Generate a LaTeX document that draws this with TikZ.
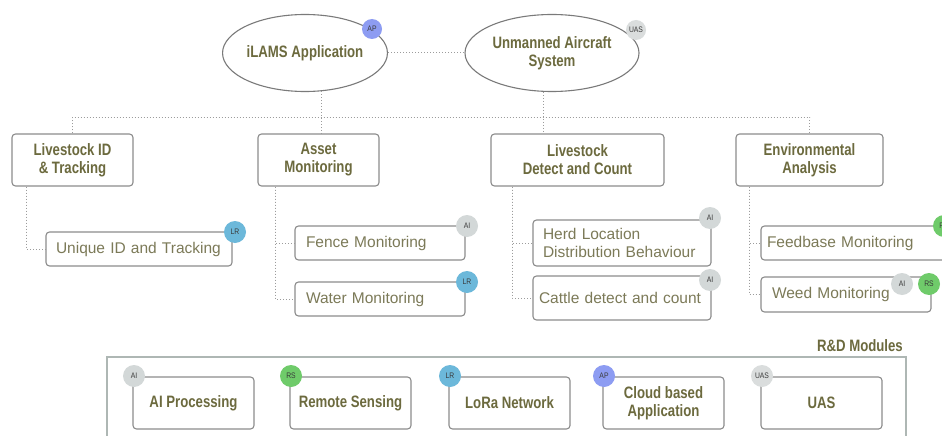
\documentclass[tikz,border=0pt]{standalone}
\usepackage{fontspec}
\setmainfont{Liberation Sans}
\newfontfamily\condfam[FakeStretch=0.8]{Liberation Sans}
\newfontfamily\badgefam[FakeStretch=0.85]{Liberation Sans}
\usetikzlibrary{shapes.geometric,calc}
\definecolor{bordc}{HTML}{8C8C8C}
\definecolor{ellc}{HTML}{7A7A7A}
\definecolor{panelc}{HTML}{AEB7B4}
\definecolor{headc}{HTML}{6C6A3E}
\definecolor{bodyc}{HTML}{7C7A58}
\definecolor{linkc}{HTML}{9C9C9C}
\definecolor{aic}{HTML}{D3D8D8}
\definecolor{lrc}{HTML}{6CB8DA}
\definecolor{rsc}{HTML}{6FCB6A}
\definecolor{apc}{HTML}{8D9CF2}
\definecolor{uasc}{HTML}{DADDDD}
\definecolor{badgetext}{HTML}{3A3A3A}
\newcommand{\headf}{\condfam\bfseries\fontsize{16.5}{18}\selectfont}
\newcommand{\bodyf}{\hyphenpenalty=10000\fontsize{15.5}{18}\selectfont}
\newcommand{\badgef}{\badgefam\fontsize{8}{8}\selectfont}
\tikzset{
  ellnode/.style={ellipse, draw=ellc, line width=1.1pt, fill=white, inner sep=0pt,
    font=\headf, text=headc, align=center},
  headbox/.style={draw=bordc, line width=1.1pt, rounded corners=3.5pt, fill=white,
    font=\headf, text=headc, align=center, inner sep=0pt, minimum height=52pt},
  subbox/.style={draw=bordc, line width=1.1pt, rounded corners=3.5pt, fill=white,
    font=\bodyf, text=bodyc, align=left, inner ysep=0pt, minimum height=34pt},
  badge/.style={circle, inner sep=0pt, minimum size=22pt, font=\badgef, text=badgetext},
  link/.style={draw=linkc, dotted, line width=1pt},
  panelbox/.style={draw=panelc, line width=1.1pt, inner sep=0pt}
}
\begin{document}
\begin{tikzpicture}[x=1pt,y=-1pt]
\useasboundingbox (0,0) rectangle (942,436);
\clip (0,0) rectangle (942,436);
\fill[white] (0,0) rectangle (942,436);

% top ellipses
\node[ellnode, minimum width=156pt, minimum height=77pt] (e1) at (305,53) {iLAMS Application};
\node[ellnode, minimum width=174pt, minimum height=77pt] (e2) at (552,53) {Unmanned Aircraft\\System};
\node[badge, fill=apc, minimum size=20pt] (bap) at (372,29) {AP};
\node[badge, fill=uasc, minimum size=20pt] (buas) at (636,30) {UAS};

% level 1 boxes
\node[headbox, minimum width=121pt] (b1) at (72.5,160) {Livestock ID\\\& Tracking};
\node[headbox, minimum width=121pt] (b2) at (318.5,160) {Asset\\Monitoring};
\node[headbox, minimum width=173pt] (b3) at (577.5,160) {Livestock\\Detect and Count};
\node[headbox, minimum width=147pt] (b4) at (809.5,160) {Environmental\\Analysis};

% level 2 boxes
\node[subbox, inner xsep=10pt, text width=166pt] (u1) at (139,249) {Unique ID and Tracking};
\node[subbox, inner xsep=11pt, text width=148pt] (f) at (380,243) {Fence Monitoring};
\node[subbox, inner xsep=11pt, text width=148pt] (w) at (380,299) {Water Monitoring};
\node[subbox, inner xsep=10pt, text width=158pt, minimum height=46pt] (h) at (622,243) {Herd Location\\Distribution Behaviour};
\node[subbox, inner xsep=6pt, text width=166pt, minimum height=44pt] (c) at (622,298) {Cattle detect and count};
\node[subbox, inner xsep=6pt, text width=188pt] (fb) at (861,243) {Feedbase Monitoring};
\node[subbox, inner xsep=11pt, text width=148pt, minimum height=35pt] (wm) at (846,294.5) {Weed Monitoring};

% connectors
\draw[link] (e1.east) -- (e2.west);
\draw[link] (e1.-67) -- (e1.-67 |- b2.north);
\draw[link] (e2.-103) -- (e2.-103 |- b3.north);
\draw[link] (b1.north) -- ++(0,-16) -| (b4.north);
\draw[link] ($(b1.south west)+(15,0)$) |- (u1.west);
\draw[link] ($(b2.south west)+(18,0)$) |- (f.west);
\draw[link] ($(b2.south west)+(18,0)$) |- (w.west);
\draw[link] ($(b3.south west)+(22,0)$) |- (h.west);
\draw[link] ($(b3.south west)+(22,0)$) |- (c.west);
\draw[link] ($(b4.south west)+(14,0)$) |- (fb.west);
\draw[link] ($(b4.south west)+(14,0)$) |- (wm.west);

% badges level 2
\node[badge, fill=lrc] (bu1) at (235,232) {LR};
\node[badge, fill=aic] (bf) at (467,226) {AI};
\node[badge, fill=lrc] (bw) at (467,282) {LR};
\node[badge, fill=aic] (bh) at (710,218) {AI};
\node[badge, fill=aic] (bc) at (710,280) {AI};
\node[badge, fill=rsc] (bfb) at (944,226) {RS};
\node[badge, fill=aic] (bwm1) at (902,284) {AI};
\node[badge, fill=rsc] (bwm2) at (929,284) {RS};

% R&D panel
\node[anchor=base east, font=\headf, text=headc, inner sep=0pt] (rdl) at (903,351) {R\&D Modules};
\node[panelbox, minimum width=799pt, minimum height=100pt] (panel) at (506.5,407) {};
\node[headbox, minimum width=121pt] (m1) at (193.5,403) {AI Processing};
\node[headbox, minimum width=121pt] (m2) at (350.5,403) {Remote Sensing};
\node[headbox, minimum width=121pt] (m3) at (509.5,403) {LoRa Network};
\node[headbox, minimum width=121pt] (m4) at (663.5,403) {Cloud based\\Application};
\node[headbox, minimum width=121pt] (m5) at (821.5,403) {UAS};
\node[badge, fill=aic] (bm1) at (134,376) {AI};
\node[badge, fill=rsc] (bm2) at (291,376) {RS};
\node[badge, fill=lrc] (bm3) at (450,376) {LR};
\node[badge, fill=apc] (bm4) at (604,376) {AP};
\node[badge, fill=uasc] (bm5) at (762,376) {UAS};
\end{tikzpicture}
\end{document}
